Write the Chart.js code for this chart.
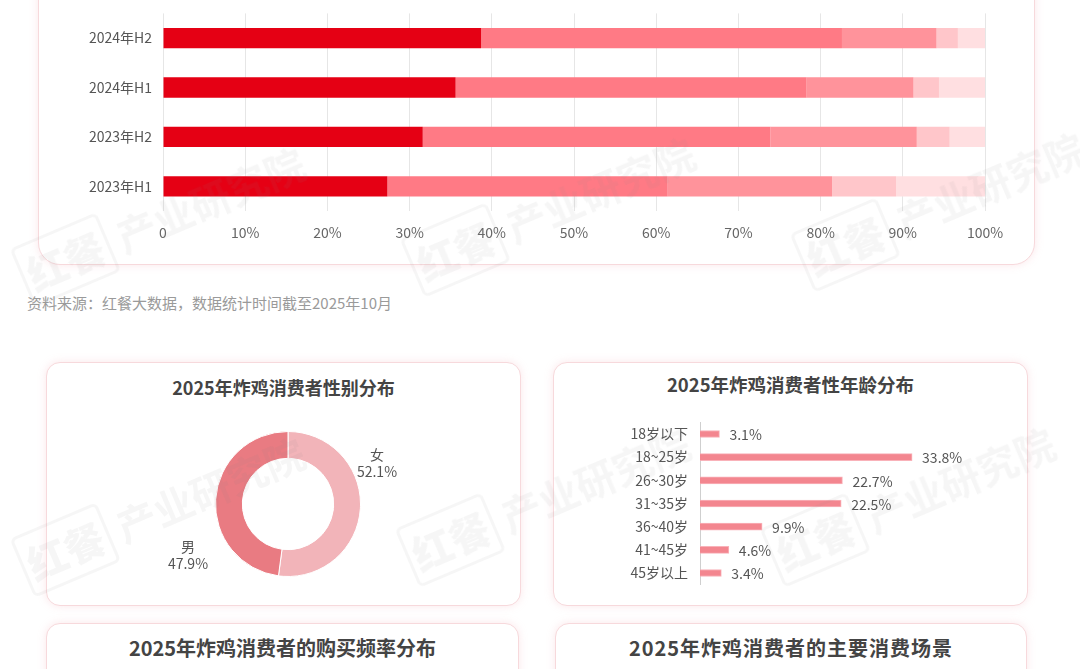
<!DOCTYPE html>
<html>
<head>
<meta charset="utf-8">
<script src="https://cdn.jsdelivr.net/npm/chart.js@4.4.1/dist/chart.umd.min.js"></script>
<style>
  html, body { margin: 0; padding: 0; background: #fff; }
  body { width: 1080px; height: 669px; position: relative; overflow: hidden; font-family: "Noto Sans CJK SC", "Noto Sans", sans-serif; }
  .card { position: absolute; background: #fff; border: 1px solid #f7d9dc; border-radius: 14px; box-shadow: 0 0 8px rgba(240, 170, 178, 0.28); box-sizing: border-box; }
  .title { position: absolute; left: 0; right: 0; text-align: center; font-weight: 700; color: #444; font-size: 18px; }
  canvas { position: absolute; }
  .lbl { position: absolute; width: 60px; text-align: center; color: #555; font-size: 14px; line-height: 17px; }
  .src { position: absolute; left: 27px; top: 292px; font-size: 15px; color: #9a9a9a; }
  .wm { position: absolute; font-size: 40px; font-weight: 700; color: rgba(140, 140, 140, 0.075); transform: rotate(-23deg); white-space: nowrap; pointer-events: none; }
  .wm b { border: 3px solid rgba(140, 140, 140, 0.075); padding: 0 4px; margin-right: 10px; border-radius: 6px; }
</style>
</head>
<body>
<div class="card" style="left:38px; top:-40px; width:997px; height:305px; border-radius:22px;"></div>
<canvas id="share" width="990" height="256" style="left:40px; top:-6px;"></canvas>
<div class="src">资料来源：红餐大数据，数据统计时间截至2025年10月</div>

<div class="card" style="left:46px; top:362px; width:475px; height:244px;">
  <div class="title" style="top:11px;">2025年炸鸡消费者性别分布</div>
</div>
<canvas id="gender" width="146" height="146" style="left:215px; top:431px;"></canvas>
<div id="genderLabels"></div>

<div class="card" style="left:553px; top:362px; width:475px; height:244px;">
  <div class="title" style="top:8px; font-size:18.5px;">2025年炸鸡消费者性年龄分布</div>
</div>
<canvas id="age" width="420" height="203" style="left:560px; top:402px;"></canvas>

<div class="card" style="left:46px; top:623px; width:473px; height:120px;">
  <div class="title" style="top:9px; font-size:20px;">2025年炸鸡消费者的购买频率分布</div>
</div>
<div class="card" style="left:555px; top:623px; width:472px; height:120px;">
  <div class="title" style="top:9px; font-size:20px; letter-spacing:1px;">2025年炸鸡消费者的主要消费场景</div>
</div>

<div class="wm" style="left:10px; top:190px;"><b>红餐</b>产业研究院</div>
<div class="wm" style="left:400px; top:180px;"><b>红餐</b>产业研究院</div>
<div class="wm" style="left:790px; top:175px;"><b>红餐</b>产业研究院</div>
<div class="wm" style="left:10px; top:480px;"><b>红餐</b>产业研究院</div>
<div class="wm" style="left:395px; top:470px;"><b>红餐</b>产业研究院</div>
<div class="wm" style="left:760px; top:470px;"><b>红餐</b>产业研究院</div>

<script>
// top stacked bar: share by period
const periods = ['2024年H2', '2024年H1', '2023年H2', '2023年H1'];
const seg1 = [38.7, 35.6, 31.6, 27.3];
const seg2 = [43.9, 42.7, 42.3, 34.1];
const seg3 = [11.5, 13.0, 17.8, 20.0];
const seg4 = [2.6, 3.1, 4.0, 7.8];
const seg5 = [3.3, 5.6, 4.3, 10.8];
const segNames = ['档位1', '档位2', '档位3', '档位4', '档位5'];
const segColors = ['#e50014', '#ff7a85', '#ff939b', '#ffc6ca', '#ffdfe1'];

// gender doughnut
const genders = ['女', '男'];
const genderShare = [52.1, 47.9];
const genderColors = ['#f2b4b9', '#e97b82'];

// age distribution
const ageGroups = ['18岁以下', '18~25岁', '26~30岁', '31~35岁', '36~40岁', '41~45岁', '45岁以上'];
const ageShare = [3.1, 33.8, 22.7, 22.5, 9.9, 4.6, 3.4];

const FONT = '"Noto Sans CJK SC", "Noto Sans", sans-serif';
Chart.defaults.font.family = FONT;
Chart.defaults.animation = false;

new Chart(document.getElementById('share'), {
    type: 'bar',
    data: {
        labels: periods,
        datasets: [seg1, seg2, seg3, seg4, seg5].map((d, i) => ({
            label: segNames[i],
            data: d,
            backgroundColor: segColors[i],
            borderWidth: 0,
            barPercentage: 0.41,
            categoryPercentage: 1
        }))
    },
    options: {
        indexAxis: 'y',
        responsive: false,
        layout: { padding: { right: 45 } },
        plugins: { legend: { display: false }, tooltip: { enabled: false } },
        scales: {
            x: {
                stacked: true, min: 0, max: 100,
                afterFit: s => { s.height = 39; },
                grid: { color: '#e6e6e6', drawTicks: false },
                border: { display: false },
                ticks: { stepSize: 10, padding: 13, color: '#666', font: { size: 14 },
                    callback: v => v === 0 ? '0' : v + '%' }
            },
            y: {
                stacked: true,
                afterFit: s => { s.width = 123; },
                grid: { display: false, drawTicks: false },
                border: { display: false },
                ticks: { padding: 11, color: '#555', font: { size: 14 } }
            }
        }
    }
});

new Chart(document.getElementById('gender'), {
    type: 'doughnut',
    data: {
        labels: genders,
        datasets: [{ data: genderShare, backgroundColor: genderColors, borderColor: '#fff', borderWidth: 1 }]
    },
    options: {
        responsive: false,
        cutout: '63%',
        plugins: { legend: { display: false }, tooltip: { enabled: false } }
    }
});

// gender labels beside the ring
const genderPos = [[347, 446], [158, 538]];
document.getElementById('genderLabels').innerHTML = genders.map((g, i) =>
    `<div class="lbl" style="left:${genderPos[i][0]}px; top:${genderPos[i][1]}px;">${g}<br>${genderShare[i]}%</div>`
).join('');

const valueLabels = {
    id: 'valueLabels',
    afterDatasetsDraw(chart) {
        const ctx = chart.ctx;
        ctx.save();
        ctx.font = '14px ' + FONT;
        ctx.fillStyle = '#555';
        ctx.textBaseline = 'middle';
        chart.getDatasetMeta(0).data.forEach((bar, i) => {
            ctx.fillText(ageShare[i].toFixed(1) + '%', bar.x + 10, bar.y + 1);
        });
        ctx.restore();
    }
};

new Chart(document.getElementById('age'), {
    type: 'bar',
    data: {
        labels: ageGroups,
        datasets: [{
            data: ageShare,
            backgroundColor: '#f3868f',
            borderColor: 'rgba(248,170,177,0.9)',
            borderWidth: 1,
            barThickness: 7
        }]
    },
    options: {
        indexAxis: 'y',
        responsive: false,
        layout: { padding: { right: 29 } },
        plugins: { legend: { display: false }, tooltip: { enabled: false } },
        scales: {
            x: { display: false, min: 0, max: 40 },
            y: {
                afterFit: s => { s.width = 140; },
                grid: { display: false, drawTicks: false },
                border: { display: true, color: '#cfcfcf' },
                ticks: { padding: 12, color: '#555', font: { size: 14 } }
            }
        }
    },
    plugins: [valueLabels]
});
</script>
</body>
</html>
